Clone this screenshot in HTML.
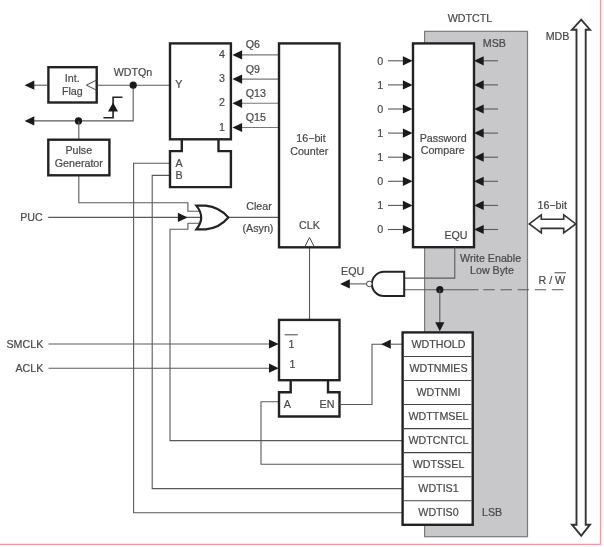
<!DOCTYPE html><html><head><meta charset="utf-8"><style>html,body{margin:0;padding:0;background:#fff;}svg{display:block;will-change:transform;}text{font-family:"Liberation Sans",sans-serif;stroke:#484848;stroke-width:0.2px;}</style></head><body>
<svg width="604" height="547" viewBox="0 0 604 547">
<rect x="424.6" y="31.3" width="102.9" height="505.4" fill="#c8c8ca" stroke="#7a7a7a" stroke-width="1.2"/>
<text x="470" y="22" text-anchor="middle" font-size="10.7" fill="#484848">WDTCTL</text>
<text x="482.8" y="46.5" text-anchor="start" font-size="10.7" fill="#484848">MSB</text>
<text x="482" y="516.4" text-anchor="start" font-size="10.7" fill="#484848">LSB</text>
<polyline points="97.9,85.2 170.4,85.2" fill="none" stroke="#5a5a5a" stroke-width="1.1"/>
<polyline points="133.2,85.2 133.2,120.9 30,120.9" fill="none" stroke="#5a5a5a" stroke-width="1.1"/>
<polyline points="47,85.2 30,85.2" fill="none" stroke="#5a5a5a" stroke-width="1.1"/>
<polygon points="24.60,85.20 34.30,80.60 34.30,89.80" fill="#1a1a1a"/>
<polygon points="24.60,120.90 34.30,116.30 34.30,125.50" fill="#1a1a1a"/>
<rect x="48.4" y="67.2" width="48.30" height="35.30" fill="#fff" stroke="#222" stroke-width="2.4"/>
<polyline points="96.7,80 86.4,85.2 96.7,90.3" fill="none" stroke="#444" stroke-width="1"/>
<text x="72.3" y="82" text-anchor="middle" font-size="10.7" fill="#484848">Int.</text>
<text x="72.3" y="94.7" text-anchor="middle" font-size="10.7" fill="#484848">Flag</text>
<text x="133" y="76.1" text-anchor="middle" font-size="10.7" fill="#484848">WDTQn</text>
<circle cx="133.2" cy="85.2" r="3.6" fill="#1a1a1a"/>
<circle cx="78.5" cy="120.9" r="3.6" fill="#1a1a1a"/>
<polyline points="122.5,97.3 113.1,97.3 113.1,117.8 103.4,117.8" fill="none" stroke="#222" stroke-width="1.6"/>
<polygon points="113.1,102.5 108,111.4 118,111.4" fill="#1a1a1a"/>
<polyline points="78.8,121 78.8,202.7 187.9,202.7 187.9,211.3 203,211.3" fill="none" stroke="#5a5a5a" stroke-width="1.1"/>
<rect x="48.3" y="139.7" width="61.10" height="35.60" fill="#fff" stroke="#222" stroke-width="2.4"/>
<text x="78.8" y="154.3" text-anchor="middle" font-size="10.7" fill="#484848">Pulse</text>
<text x="78.8" y="167.1" text-anchor="middle" font-size="10.7" fill="#484848">Generator</text>
<text x="31.5" y="221.2" text-anchor="middle" font-size="10.7" fill="#484848">PUC</text>
<polyline points="48.2,217.4 204,217.4" fill="none" stroke="#5a5a5a" stroke-width="1.1"/>
<polygon points="187.60,217.40 177.90,212.80 177.90,222.00" fill="#1a1a1a"/>
<polyline points="472,440.6 170,440.6 170,229.2 187.9,229.2 187.9,223.3 203,223.3" fill="none" stroke="#5a5a5a" stroke-width="1.1"/>
<polyline points="402,488.6 152.2,488.6 152.2,175.4 170,175.4" fill="none" stroke="#5a5a5a" stroke-width="1.1"/>
<polyline points="402,512.7 133.6,512.7 133.6,163.2 170,163.2" fill="none" stroke="#5a5a5a" stroke-width="1.1"/>
<polyline points="402,464.3 261,464.3 261,401.8 279,401.8" fill="none" stroke="#5a5a5a" stroke-width="1.1"/>
<polyline points="228.4,217.4 279,217.4" fill="none" stroke="#5a5a5a" stroke-width="1.1"/>
<path d="M196.3,205.6 H205.6 Q219.5,207 228.4,217.5 Q219.5,228 205.6,229.4 H196.3 Q206.1,217.5 196.3,205.6 Z" fill="#fff" stroke="#222" stroke-width="2.1" stroke-miterlimit="2.5"/>
<text x="259" y="210.2" text-anchor="middle" font-size="10.7" fill="#484848">Clear</text>
<text x="258" y="231.9" text-anchor="middle" font-size="10.7" fill="#484848">(Asyn)</text>
<path d="M181.8,139.3 V151.1 H170 V187.1 H230.9 V151.1 H218.5 V139.3" fill="#fff" stroke="#222" stroke-width="2.4"/>
<rect x="170" y="43.4" width="60.90" height="95.90" fill="#fff" stroke="#222" stroke-width="2.4"/>
<polyline points="242,54.9 279,54.9" fill="none" stroke="#777" stroke-width="1.1"/>
<polygon points="232.40,54.90 242.10,50.30 242.10,59.50" fill="#1a1a1a"/>
<text x="224.9" y="57.9" text-anchor="end" font-size="10.7" fill="#484848">4</text>
<text x="245.7" y="48.3" text-anchor="start" font-size="10.7" fill="#484848">Q6</text>
<polyline points="242,79.1 279,79.1" fill="none" stroke="#777" stroke-width="1.1"/>
<polygon points="232.40,79.10 242.10,74.50 242.10,83.70" fill="#1a1a1a"/>
<text x="224.9" y="82.1" text-anchor="end" font-size="10.7" fill="#484848">3</text>
<text x="245.7" y="72.5" text-anchor="start" font-size="10.7" fill="#484848">Q9</text>
<polyline points="242,103.3 279,103.3" fill="none" stroke="#777" stroke-width="1.1"/>
<polygon points="232.40,103.30 242.10,98.70 242.10,107.90" fill="#1a1a1a"/>
<text x="224.9" y="106.3" text-anchor="end" font-size="10.7" fill="#484848">2</text>
<text x="245.7" y="96.69999999999999" text-anchor="start" font-size="10.7" fill="#484848">Q13</text>
<polyline points="242,127.5 279,127.5" fill="none" stroke="#777" stroke-width="1.1"/>
<polygon points="232.40,127.50 242.10,122.90 242.10,132.10" fill="#1a1a1a"/>
<text x="224.9" y="130.5" text-anchor="end" font-size="10.7" fill="#484848">1</text>
<text x="245.7" y="120.89999999999999" text-anchor="start" font-size="10.7" fill="#484848">Q15</text>
<text x="178.7" y="87.9" text-anchor="middle" font-size="10.7" fill="#484848">Y</text>
<text x="175.4" y="166.6" text-anchor="start" font-size="10.7" fill="#484848">A</text>
<text x="175.4" y="178.6" text-anchor="start" font-size="10.7" fill="#484848">B</text>
<polyline points="309.5,237 309.5,319.9" fill="none" stroke="#5a5a5a" stroke-width="1.1"/>
<rect x="279" y="43.4" width="60.50" height="203.90" fill="#fff" stroke="#222" stroke-width="2.4"/>
<text x="311" y="141.9" text-anchor="middle" font-size="10.7" fill="#484848">16&#8722;bit</text>
<text x="309.2" y="154.7" text-anchor="middle" font-size="10.7" fill="#484848">Counter</text>
<text x="309.5" y="229.1" text-anchor="middle" font-size="10.7" fill="#484848">CLK</text>
<polyline points="304.7,247 309.5,237.5 314.4,247" fill="none" stroke="#444" stroke-width="1"/>
<text x="24.9" y="348.2" text-anchor="middle" font-size="10.7" fill="#484848">SMCLK</text>
<text x="29.4" y="372.2" text-anchor="middle" font-size="10.7" fill="#484848">ACLK</text>
<polyline points="48.5,344 270,344" fill="none" stroke="#5a5a5a" stroke-width="1.1"/>
<polyline points="48.5,368.2 270,368.2" fill="none" stroke="#5a5a5a" stroke-width="1.1"/>
<polygon points="278.70,344.00 269.00,339.40 269.00,348.60" fill="#1a1a1a"/>
<polygon points="278.70,368.20 269.00,363.60 269.00,372.80" fill="#1a1a1a"/>
<path d="M290.7,380.2 V392.3 H279 V416.5 H339.5 V392.3 H328 V380.2" fill="#fff" stroke="#222" stroke-width="2.4"/>
<rect x="279" y="319.9" width="60.50" height="60.30" fill="#fff" stroke="#222" stroke-width="2.4"/>
<text x="291.5" y="348.2" text-anchor="middle" font-size="10.7" fill="#484848">1</text>
<polyline points="284.6,334.8 297.8,334.8" fill="none" stroke="#444" stroke-width="1"/>
<text x="292.5" y="368.4" text-anchor="middle" font-size="10.7" fill="#484848">1</text>
<text x="287.4" y="408.2" text-anchor="middle" font-size="10.7" fill="#484848">A</text>
<text x="327" y="408.2" text-anchor="middle" font-size="10.7" fill="#484848">EN</text>
<polyline points="339.5,404.5 372,404.5 372,344.2 386,344.2" fill="none" stroke="#5a5a5a" stroke-width="1.1"/>
<polygon points="381.10,344.20 390.80,339.60 390.80,348.80" fill="#1a1a1a"/>
<polyline points="390,344.2 402.6,344.2" fill="none" stroke="#5a5a5a" stroke-width="1.1"/>
<text x="380.3" y="64.5" text-anchor="middle" font-size="10.7" fill="#484848">0</text>
<polyline points="388,60.8 404,60.8" fill="none" stroke="#5a5a5a" stroke-width="1.1"/>
<polygon points="412.60,60.80 402.90,56.20 402.90,65.40" fill="#1a1a1a"/>
<polyline points="482,60.8 498,60.8" fill="none" stroke="#5a5a5a" stroke-width="1.1"/>
<polygon points="474.00,60.80 483.70,56.20 483.70,65.40" fill="#1a1a1a"/>
<text x="380.3" y="88.60000000000001" text-anchor="middle" font-size="10.7" fill="#484848">1</text>
<polyline points="388,84.9 404,84.9" fill="none" stroke="#5a5a5a" stroke-width="1.1"/>
<polygon points="412.60,84.90 402.90,80.30 402.90,89.50" fill="#1a1a1a"/>
<polyline points="482,84.9 498,84.9" fill="none" stroke="#5a5a5a" stroke-width="1.1"/>
<polygon points="474.00,84.90 483.70,80.30 483.70,89.50" fill="#1a1a1a"/>
<text x="380.3" y="112.7" text-anchor="middle" font-size="10.7" fill="#484848">0</text>
<polyline points="388,109.0 404,109.0" fill="none" stroke="#5a5a5a" stroke-width="1.1"/>
<polygon points="412.60,109.00 402.90,104.40 402.90,113.60" fill="#1a1a1a"/>
<polyline points="482,109.0 498,109.0" fill="none" stroke="#5a5a5a" stroke-width="1.1"/>
<polygon points="474.00,109.00 483.70,104.40 483.70,113.60" fill="#1a1a1a"/>
<text x="380.3" y="136.8" text-anchor="middle" font-size="10.7" fill="#484848">1</text>
<polyline points="388,133.10000000000002 404,133.10000000000002" fill="none" stroke="#5a5a5a" stroke-width="1.1"/>
<polygon points="412.60,133.10 402.90,128.50 402.90,137.70" fill="#1a1a1a"/>
<polyline points="482,133.10000000000002 498,133.10000000000002" fill="none" stroke="#5a5a5a" stroke-width="1.1"/>
<polygon points="474.00,133.10 483.70,128.50 483.70,137.70" fill="#1a1a1a"/>
<text x="380.3" y="160.89999999999998" text-anchor="middle" font-size="10.7" fill="#484848">1</text>
<polyline points="388,157.2 404,157.2" fill="none" stroke="#5a5a5a" stroke-width="1.1"/>
<polygon points="412.60,157.20 402.90,152.60 402.90,161.80" fill="#1a1a1a"/>
<polyline points="482,157.2 498,157.2" fill="none" stroke="#5a5a5a" stroke-width="1.1"/>
<polygon points="474.00,157.20 483.70,152.60 483.70,161.80" fill="#1a1a1a"/>
<text x="380.3" y="185.0" text-anchor="middle" font-size="10.7" fill="#484848">0</text>
<polyline points="388,181.3 404,181.3" fill="none" stroke="#5a5a5a" stroke-width="1.1"/>
<polygon points="412.60,181.30 402.90,176.70 402.90,185.90" fill="#1a1a1a"/>
<polyline points="482,181.3 498,181.3" fill="none" stroke="#5a5a5a" stroke-width="1.1"/>
<polygon points="474.00,181.30 483.70,176.70 483.70,185.90" fill="#1a1a1a"/>
<text x="380.3" y="209.10000000000002" text-anchor="middle" font-size="10.7" fill="#484848">1</text>
<polyline points="388,205.40000000000003 404,205.40000000000003" fill="none" stroke="#5a5a5a" stroke-width="1.1"/>
<polygon points="412.60,205.40 402.90,200.80 402.90,210.00" fill="#1a1a1a"/>
<polyline points="482,205.40000000000003 498,205.40000000000003" fill="none" stroke="#5a5a5a" stroke-width="1.1"/>
<polygon points="474.00,205.40 483.70,200.80 483.70,210.00" fill="#1a1a1a"/>
<text x="380.3" y="233.2" text-anchor="middle" font-size="10.7" fill="#484848">0</text>
<polyline points="388,229.5 404,229.5" fill="none" stroke="#5a5a5a" stroke-width="1.1"/>
<polygon points="412.60,229.50 402.90,224.90 402.90,234.10" fill="#1a1a1a"/>
<polyline points="482,229.5 498,229.5" fill="none" stroke="#5a5a5a" stroke-width="1.1"/>
<polygon points="474.00,229.50 483.70,224.90 483.70,234.10" fill="#1a1a1a"/>
<rect x="413" y="43.4" width="61.00" height="203.80" fill="#fff" stroke="#222" stroke-width="2.4"/>
<text x="443.2" y="141.9" text-anchor="middle" font-size="10.7" fill="#484848">Password</text>
<text x="442.7" y="154.4" text-anchor="middle" font-size="10.7" fill="#484848">Compare</text>
<text x="456" y="238.8" text-anchor="middle" font-size="10.7" fill="#484848">EQU</text>
<polyline points="454.8,247.2 454.8,278.1 404.2,278.1" fill="none" stroke="#5a5a5a" stroke-width="1.1"/>
<text x="490.6" y="261.7" text-anchor="middle" font-size="10.7" fill="#484848">Write Enable</text>
<text x="492" y="274.4" text-anchor="middle" font-size="10.7" fill="#484848">Low Byte</text>
<polyline points="404.2,289.7 478.4,289.7" fill="none" stroke="#5a5a5a" stroke-width="1.1"/>
<polyline points="483.4,289.7 564,289.7" fill="none" stroke="#5a5a5a" stroke-width="1.1" stroke-dasharray="11.4,5.7"/>
<text x="551.8" y="284" text-anchor="middle" font-size="10.7" fill="#484848">R / W</text>
<polyline points="554.5,272.8 566,272.8" fill="none" stroke="#444" stroke-width="1"/>
<circle cx="439.8" cy="289.7" r="3.6" fill="#1a1a1a"/>
<polyline points="439.8,289.7 439.8,324" fill="none" stroke="#5a5a5a" stroke-width="1.1"/>
<polygon points="439.80,331.30 435.20,322.30 444.40,322.30" fill="#1a1a1a"/>
<path d="M404.2,271.8 H384 A12.1,12.1 0 0 0 384,296 H404.2 Z" fill="#fff" stroke="#222" stroke-width="2"/>
<circle cx="369.3" cy="283.9" r="2.8" fill="#fff" stroke="#444" stroke-width="1"/>
<polyline points="367,283.9 348,283.9" fill="none" stroke="#5a5a5a" stroke-width="1.1"/>
<polygon points="340.10,283.90 349.80,279.30 349.80,288.50" fill="#1a1a1a"/>
<text x="352.6" y="274.7" text-anchor="middle" font-size="10.7" fill="#484848">EQU</text>
<rect x="402.6" y="332.4" width="70.10" height="192.40" fill="#fff" stroke="#222" stroke-width="2.4"/>
<text x="438.5" y="347.9" text-anchor="middle" font-size="10.7" fill="#484848">WDTHOLD</text>
<polyline points="403.8,356.45 471.5,356.45" fill="none" stroke="#444" stroke-width="1.1"/>
<text x="438.5" y="371.95" text-anchor="middle" font-size="10.7" fill="#484848">WDTNMIES</text>
<polyline points="403.8,380.5 471.5,380.5" fill="none" stroke="#444" stroke-width="1.1"/>
<text x="438.5" y="396.0" text-anchor="middle" font-size="10.7" fill="#484848">WDTNMI</text>
<polyline points="403.8,404.54999999999995 471.5,404.54999999999995" fill="none" stroke="#444" stroke-width="1.1"/>
<text x="438.5" y="420.04999999999995" text-anchor="middle" font-size="10.7" fill="#484848">WDTTMSEL</text>
<polyline points="403.8,428.59999999999997 471.5,428.59999999999997" fill="none" stroke="#444" stroke-width="1.1"/>
<text x="438.5" y="444.09999999999997" text-anchor="middle" font-size="10.7" fill="#484848">WDTCNTCL</text>
<polyline points="403.8,452.65 471.5,452.65" fill="none" stroke="#444" stroke-width="1.1"/>
<text x="438.5" y="468.15" text-anchor="middle" font-size="10.7" fill="#484848">WDTSSEL</text>
<polyline points="403.8,476.7 471.5,476.7" fill="none" stroke="#444" stroke-width="1.1"/>
<text x="438.5" y="492.2" text-anchor="middle" font-size="10.7" fill="#484848">WDTIS1</text>
<polyline points="403.8,500.75 471.5,500.75" fill="none" stroke="#444" stroke-width="1.1"/>
<text x="438.5" y="516.25" text-anchor="middle" font-size="10.7" fill="#484848">WDTIS0</text>
<path d="M576.5,524.7 H572 L581.2,535.8 L590,524.7 H585.7 V29.7 H590 L581.2,19.6 L572,29.7 H576.5 Z" fill="#fff" stroke="#333" stroke-width="1.9"/>
<text x="557.5" y="40.2" text-anchor="middle" font-size="10.7" fill="#484848">MDB</text>
<path d="M529.3,223.9 L541.3,214.8 V219.2 H563.7 V214.8 L575.8,223.9 L563.7,233 V228.4 H541.3 V233 Z" fill="#fff" stroke="#333" stroke-width="1.6"/>
<text x="552.2" y="208.7" text-anchor="middle" font-size="10.7" fill="#484848">16&#8722;bit</text>
<polyline points="600.5,0 600.5,544.4 0,544.4" fill="none" stroke="#ee9a9e" stroke-width="1.2"/>
</svg></body></html>
